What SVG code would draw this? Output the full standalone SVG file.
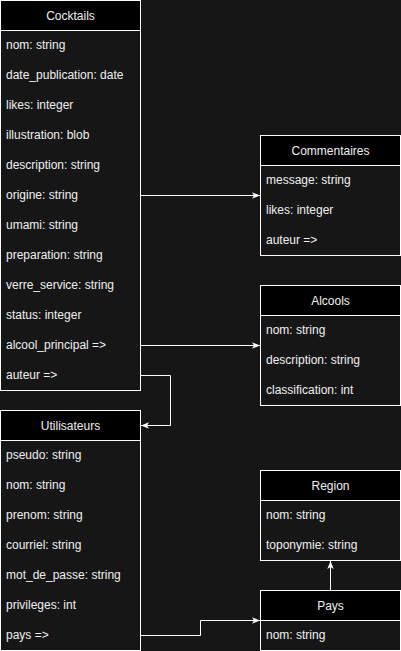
<svg xmlns="http://www.w3.org/2000/svg" width="401" height="651" viewBox="0 0 401 651">
<style>
.bg{fill:#161616}
.body{fill:#161616;stroke:#ffffff;stroke-width:1}
.head{fill:#000000;stroke:#ffffff;stroke-width:1}
.t{font-family:"Liberation Sans",Arial,sans-serif;font-size:12px;fill:#f0f0f0;dominant-baseline:central}
.h{text-anchor:middle}
.c{fill:none;stroke:#ffffff;stroke-width:1}
</style>
<defs>
<marker id="a" viewBox="0 0 10 10" refX="10" refY="5" markerWidth="8" markerHeight="8" markerUnits="userSpaceOnUse" orient="auto">
<path d="M0,1 L10,5 L0,9 L2.5,5 Z" fill="#ffffff"/>
</marker>
</defs>
<rect class="bg" x="0" y="0" width="401" height="651"/>
<g id="cocktails">
<rect class="body" x="0.5" y="0.5" width="140" height="390"/>
<rect class="head" x="0.5" y="0.5" width="140" height="30"/>
<text class="t h" x="70.5" y="15.5">Cocktails</text>
<text class="t" x="6" y="45">nom: string</text>
<text class="t" x="6" y="75">date_publication: date</text>
<text class="t" x="6" y="105">likes: integer</text>
<text class="t" x="6" y="135">illustration: blob</text>
<text class="t" x="6" y="165">description: string</text>
<text class="t" x="6" y="195">origine: string</text>
<text class="t" x="6" y="225">umami: string</text>
<text class="t" x="6" y="255">preparation: string</text>
<text class="t" x="6" y="285">verre_service: string</text>
<text class="t" x="6" y="315">status: integer</text>
<text class="t" x="6" y="345">alcool_principal =&gt;</text>
<text class="t" x="6" y="375">auteur =&gt;</text>
</g>
<g id="commentaires">
<rect class="body" x="260.5" y="135.5" width="140" height="120"/>
<rect class="head" x="260.5" y="135.5" width="140" height="30"/>
<text class="t h" x="330.5" y="150.5">Commentaires</text>
<text class="t" x="266" y="180">message: string</text>
<text class="t" x="266" y="210">likes: integer</text>
<text class="t" x="266" y="240">auteur =&gt;</text>
</g>
<g id="alcools">
<rect class="body" x="260.5" y="285.5" width="140" height="120"/>
<rect class="head" x="260.5" y="285.5" width="140" height="30"/>
<text class="t h" x="330.5" y="300.5">Alcools</text>
<text class="t" x="266" y="330">nom: string</text>
<text class="t" x="266" y="360">description: string</text>
<text class="t" x="266" y="390">classification: int</text>
</g>
<g id="utilisateurs">
<rect class="body" x="0.5" y="410.5" width="140" height="240"/>
<rect class="head" x="0.5" y="410.5" width="140" height="30"/>
<text class="t h" x="70.5" y="425.5">Utilisateurs</text>
<text class="t" x="6" y="455">pseudo: string</text>
<text class="t" x="6" y="485">nom: string</text>
<text class="t" x="6" y="515">prenom: string</text>
<text class="t" x="6" y="545">courriel: string</text>
<text class="t" x="6" y="575">mot_de_passe: string</text>
<text class="t" x="6" y="605">privileges: int</text>
<text class="t" x="6" y="635">pays =&gt;</text>
</g>
<g id="region">
<rect class="body" x="260.5" y="470.5" width="140" height="90"/>
<rect class="head" x="260.5" y="470.5" width="140" height="30"/>
<text class="t h" x="330.5" y="485.5">Region</text>
<text class="t" x="266" y="515">nom: string</text>
<text class="t" x="266" y="545">toponymie: string</text>
</g>
<g id="pays">
<rect class="body" x="260.5" y="590.5" width="140" height="60"/>
<rect class="head" x="260.5" y="590.5" width="140" height="30"/>
<text class="t h" x="330.5" y="605.5">Pays</text>
<text class="t" x="266" y="635">nom: string</text>
</g>
<g id="connectors">
<path class="c" d="M140.5,195.5 H260" marker-end="url(#a)"/>
<path class="c" d="M140.5,345.5 H260" marker-end="url(#a)"/>
<path class="c" d="M140.5,375.5 H170.5 V425.5 H141" marker-end="url(#a)"/>
<path class="c" d="M140.5,635.5 H200.5 V620.5 H260" marker-end="url(#a)"/>
<path class="c" d="M330.5,590 V561" marker-end="url(#a)"/>
</g>
</svg>
